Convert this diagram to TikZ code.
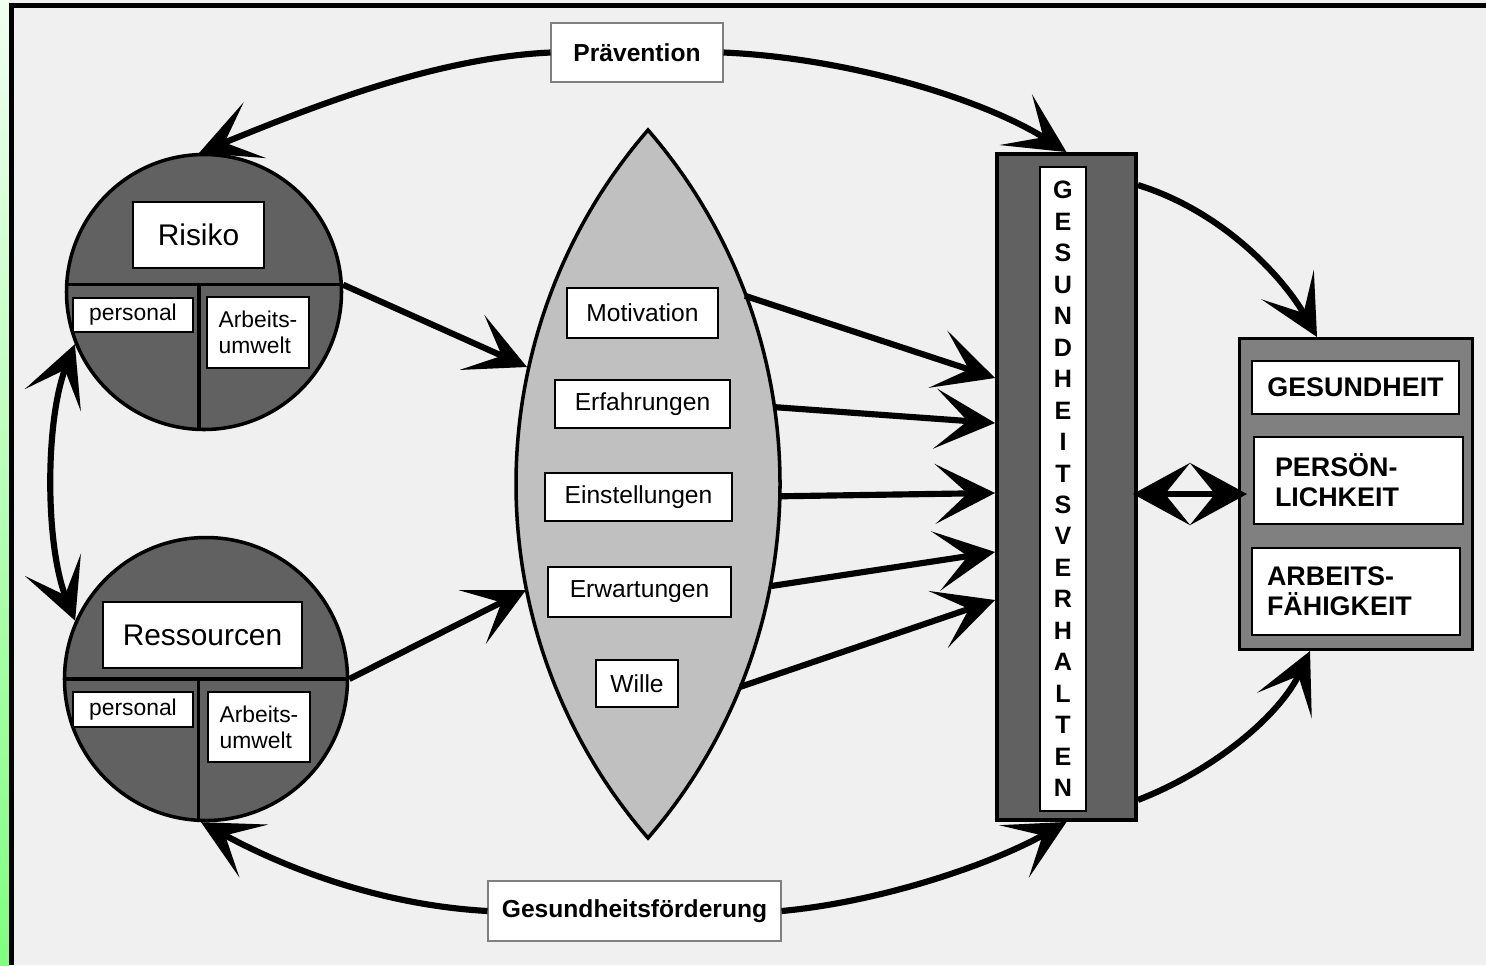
\documentclass[tikz,border=0pt]{standalone}
\usepackage{fontspec}
\setmainfont{Liberation Sans}
\usetikzlibrary{arrows.meta,calc}

\definecolor{grund}{HTML}{F0F0F0}
\definecolor{dunkel}{HTML}{616161}
\definecolor{mittel}{HTML}{808080}
\definecolor{linse}{HTML}{C0C0C0}
\definecolor{gruen}{HTML}{80FF80}
\definecolor{blass}{HTML}{F0FFF0}

\tikzset{
  feld/.style={draw,fill=white,line width=0.9pt,inner sep=0pt},
  kreis/.style={circle,draw,fill=dunkel,line width=2pt,inner sep=0pt},
  pfeil/.style={line width=3.5pt},
  doppel/.style={arrows={Stealth[length=11.4mm,width=12.4mm,inset=5mm]-Stealth[length=11.4mm,width=12.4mm,inset=5mm]}},
  titel/.style={feld,draw=gray,line width=0.6pt,font=\fontsize{14}{17}\selectfont\bfseries},
  klein/.style={font=\fontsize{13}{14.7}\selectfont},
  mitte/.style={font=\fontsize{14}{17}\selectfont},
  gross/.style={font=\fontsize{15.3}{17}\selectfont\bfseries},
}

\begin{document}
\begin{tikzpicture}[x=0.2mm,y=-0.2mm,>={Stealth[length=12mm,width=12mm,inset=6.5mm]}]
  \useasboundingbox (0,0) rectangle (1486,965);
  % hintergrund
  \fill[grund] (9,0) rectangle (1486,965);
  \shade[top color=blass,bottom color=gruen] (0,0) rectangle (9,965);
  \draw[line width=1mm] (11,965) -- (11,5.5) -- (1486,5.5);

  % linse
  \draw[fill=linse,line width=2pt] (648,130) .. controls (563,228) and (516,354) .. (516,484)
    .. controls (516,614) and (563,740) .. (648,838)
    .. controls (733,740) and (780,614) .. (780,484)
    .. controls (780,354) and (733,228) .. cycle;
  \coordinate (l1) at (527,367);
  \coordinate (l2) at (526,590);

  \node[mitte,feld,minimum width=30.2mm,minimum height=10mm] (motiv) at (642.5,313) {Motivation};
  \node[mitte,feld,minimum width=35mm,minimum height=9.6mm] (erf) at (642.5,404) {Erfahrungen};
  \node[mitte,feld,minimum width=37.4mm,minimum height=9.6mm] (einst) at (638.5,497) {Einstellungen};
  \node[mitte,feld,minimum width=36.6mm,minimum height=10mm] (erw) at (639.5,592) {Erwartungen};
  \node[mitte,feld,minimum width=16.4mm,minimum height=9.4mm] (wille) at (637,683.5) {Wille};

  % risiko
  \node[kreis,minimum size=55mm] (risiko) at (204,292) {};
  \draw[line width=2pt] (risiko.177) -- (risiko.3);
  \draw[line width=2pt] (risiko.268) -- (risiko.268 |- risiko.3);
  \node[feld,minimum width=26.2mm,minimum height=13.2mm,font=\fontsize{17}{20}\selectfont] (rlab) at (198.5,235) {Risiko};
  \node[klein,feld,minimum width=24mm,minimum height=6.8mm] (rper) at (133,315) {personal};
  \node[klein,feld,minimum width=20.4mm,minimum height=14.2mm,align=left] (rarb) at (258,332.5) {Arbeits-\\umwelt};

  % ressourcen
  \node[kreis,minimum size=56.6mm] (res) at (206,679) {};
  \draw[line width=2pt] (res.west) -- (res.east);
  \draw[line width=2pt] (res.267) -- (res.267 |- res.east);
  \node[feld,minimum width=39.8mm,minimum height=13.2mm,font=\fontsize{17}{20}\selectfont] (reslab) at (202.5,635) {Ressourcen};
  \node[klein,feld,minimum width=24mm,minimum height=7mm] (resper) at (133,709.5) {personal};
  \node[klein,feld,minimum width=20.4mm,minimum height=14mm,align=left] (resarb) at (259,727) {Arbeits-\\umwelt};

  % verhalten
  \node[draw,fill=dunkel,line width=2.2pt,minimum width=27.8mm,minimum height=133.2mm] (verh) at (1066.5,487) {};
  \node[feld,minimum width=9.2mm,minimum height=128.8mm,align=center,font=\fontsize{14.3}{17.9}\selectfont\bfseries] (vtext) at (1063,489)
    {G\\E\\S\\U\\N\\D\\H\\E\\I\\T\\S\\V\\E\\R\\H\\A\\L\\T\\E\\N};

  % ergebnis
  \node[draw,fill=mittel,line width=1.7pt,minimum width=46.6mm,minimum height=62.2mm] (erg) at (1356,494) {};
  \node[gross,feld,minimum width=41.4mm,minimum height=10.6mm] (ges) at (1355.5,387.5) {GESUNDHEIT};
  \node[gross,feld,text width=33.4mm,inner xsep=4.2mm,minimum height=17.4mm,align=left] (pers) at (1358.5,480.5) {PERSÖN-\\LICHKEIT};
  \node[gross,feld,text width=35.6mm,inner xsep=3mm,minimum height=17.4mm,align=left] (arbf) at (1356,591.5) {ARBEITS-\\FÄHIGKEIT};

  % titel
  \node[titel,minimum width=34.4mm,minimum height=11.8mm] (prae) at (637,52.5) {Prävention};
  \node[titel,minimum width=58.6mm,minimum height=12mm] (foerd) at (634.5,911) {Gesundheitsförderung};

  % pfeile
  \draw[pfeil,->] (prae.west) .. controls (430,58) and (300,112) .. (risiko.92);
  \draw[pfeil,->] (prae.east) .. controls (850,58) and (985,100) .. (verh.north);
  \draw[pfeil,->] (foerd.west) .. controls (380,905) and (285,868) .. (res.268);
  \draw[pfeil,->] (foerd.east) .. controls (880,902) and (990,865) .. (verh.south);
  \draw[pfeil,<->] (risiko.202) .. controls (45,420) and (45,545) .. (res.156);
  \draw[pfeil,->] (risiko.3) -- (l1);
  \draw[pfeil,->] (res.east) -- (l2);
  \draw[pfeil,->,shorten <=5.5mm] (motiv.north east) -- ($(verh.west)+(0,-109)$);
  \draw[pfeil,->,shorten <=8.8mm] (erf.east) -- ($(verh.west)+(0,-64)$);
  \draw[pfeil,->,shorten <=9.6mm] (einst.east) -- ($(verh.west)+(0,6)$);
  \draw[pfeil,->,shorten <=8mm] (erw.east) -- ($(verh.west)+(0,65)$);
  \draw[pfeil,->,shorten <=13mm] (wille.south east) -- ($(verh.west)+(0,113)$);
  \draw[pfeil,->] ($(verh.north east)+(0,33)$) .. controls (1225,212) and (1285,280) .. ($(erg.north)+(-39,0)$);
  \draw[pfeil,->] ($(verh.south east)+(0,-22)$) .. controls (1215,770) and (1280,715) .. ($(erg.south)+(-46,0)$);
  \draw[pfeil,doppel,shorten <=-1mm,shorten >=-1.8mm] (verh.east |- erg.west) -- (erg.west);
\end{tikzpicture}
\end{document}
